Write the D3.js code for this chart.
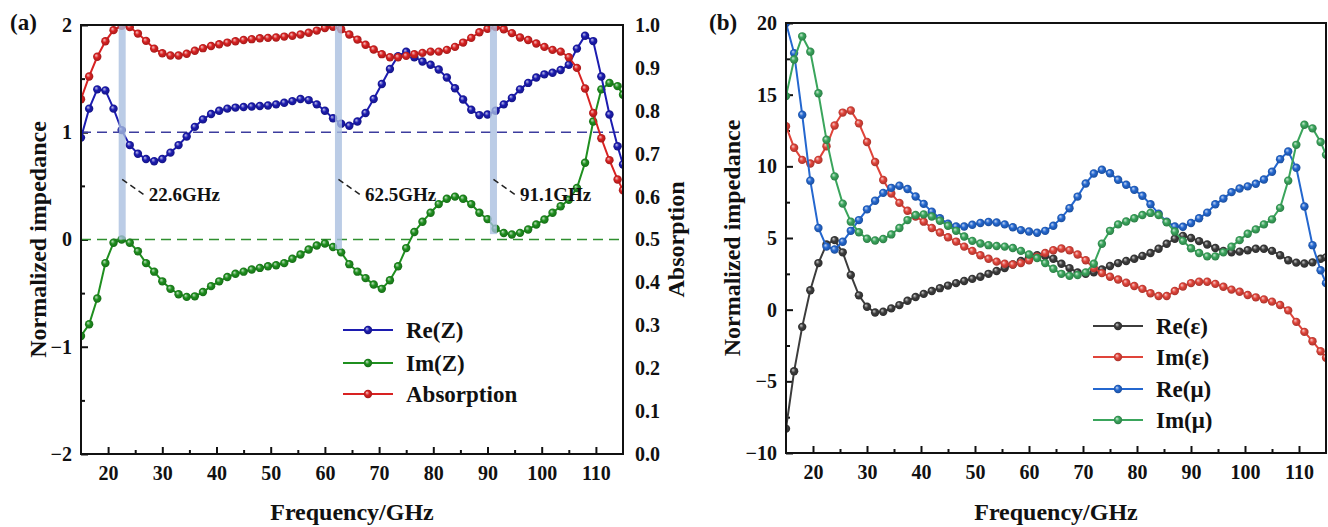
<!DOCTYPE html>
<html>
<head>
<meta charset="utf-8">
<script src="https://cdn.jsdelivr.net/npm/d3@7"></script>
<style>
  body { margin: 0; background: #fff; }
  svg { display: block; }
  text { font-family: "Liberation Serif", "Times New Roman", serif; font-weight: bold; fill: #111; }
</style>
</head>
<body>
<svg id="chart" width="1328" height="527"></svg>
<script>
// ---------------- data ----------------
const freq = [15, 16.5, 18, 19.5, 21, 22.5, 24, 25.5, 27, 28.5, 30, 31.5, 33, 34.5, 36, 37.5, 39, 40.5,
  42, 43.5, 45, 46.5, 48, 49.5, 51, 52.5, 54, 55.5, 57, 58.5, 60, 61.5, 63, 64.5, 66, 67.5, 69, 70.5,
  72, 73.5, 75, 76.5, 78, 79.5, 81, 82.5, 84, 85.5, 87, 88.5, 90, 91.5, 93, 94.5, 96, 97.5, 99, 100.5,
  102, 103.5, 105, 106.5, 108, 109.5, 111, 112.5, 114, 115];

// (a) normalized impedance and absorption
const reZ = [0.95, 1.22, 1.40, 1.39, 1.22, 1.02, 0.88, 0.80, 0.75, 0.73, 0.75, 0.81, 0.88, 0.96, 1.05, 1.12, 1.17, 1.20,
  1.22, 1.23, 1.235, 1.24, 1.245, 1.25, 1.26, 1.275, 1.29, 1.31, 1.30, 1.26, 1.20, 1.13, 1.08, 1.06, 1.10, 1.18, 1.31, 1.45,
  1.59, 1.71, 1.75, 1.70, 1.66, 1.63, 1.585, 1.51, 1.41, 1.305, 1.21, 1.16, 1.165, 1.20, 1.26, 1.32, 1.40, 1.46, 1.51, 1.54,
  1.555, 1.58, 1.63, 1.78, 1.90, 1.85, 1.52, 1.165, 0.87, 0.70];
const imZ = [-0.90, -0.79, -0.55, -0.22, -0.03, 0.0, -0.03, -0.11, -0.22, -0.30, -0.39, -0.46, -0.51, -0.535, -0.53, -0.49, -0.435, -0.39,
  -0.35, -0.32, -0.30, -0.28, -0.265, -0.25, -0.24, -0.22, -0.18, -0.14, -0.093, -0.056, -0.037, -0.07, -0.12, -0.23, -0.30, -0.36, -0.42, -0.46,
  -0.38, -0.25, -0.08, 0.07, 0.165, 0.25, 0.33, 0.38, 0.40, 0.38, 0.33, 0.25, 0.19, 0.10, 0.06, 0.047, 0.062, 0.093, 0.14, 0.186,
  0.25, 0.31, 0.37, 0.48, 0.715, 1.10, 1.40, 1.46, 1.43, 1.35];
const absorption = [0.827, 0.88, 0.926, 0.962, 0.988, 0.998, 0.995, 0.98, 0.963, 0.945, 0.934, 0.929, 0.929, 0.933, 0.94, 0.946, 0.951, 0.955,
  0.959, 0.962, 0.965, 0.967, 0.969, 0.97, 0.971, 0.973, 0.975, 0.978, 0.982, 0.987, 0.993, 0.996, 0.99, 0.978, 0.966, 0.954, 0.943, 0.932,
  0.925, 0.925, 0.928, 0.932, 0.935, 0.938, 0.938, 0.942, 0.949, 0.959, 0.97, 0.983, 0.991, 0.995, 0.99, 0.981, 0.971, 0.965, 0.957, 0.949,
  0.942, 0.938, 0.925, 0.90, 0.852, 0.795, 0.736, 0.685, 0.64, 0.615];

// (b) permittivity and permeability
const reEps = [-8.3, -4.3, -1.2, 1.35, 3.25, 4.55, 4.85, 4.0, 2.42, 1.0, 0.2, -0.2, -0.15, 0.09, 0.32, 0.62, 0.88, 1.1,
  1.3, 1.5, 1.68, 1.85, 2.0, 2.15, 2.3, 2.5, 2.7, 2.9, 3.15, 3.4, 3.65, 3.8, 3.75, 3.55, 3.2, 2.9, 2.6, 2.5,
  2.6, 2.8, 3.05, 3.25, 3.4, 3.55, 3.75, 3.95, 4.25, 4.6, 4.95, 5.15, 5.0, 4.78, 4.55, 4.3, 4.1, 4.0, 4.05, 4.15,
  4.25, 4.25, 4.1, 3.8, 3.45, 3.28, 3.22, 3.3, 3.55, 3.65];
const imEps = [12.8, 11.3, 10.45, 10.2, 10.45, 11.4, 12.85, 13.75, 13.9, 13.0, 11.7, 10.3, 9.05, 8.1, 7.45, 6.9, 6.5, 6.14,
  5.7, 5.38, 5.05, 4.75, 4.4, 4.1, 3.8, 3.55, 3.35, 3.2, 3.15, 3.25, 3.45, 3.7, 3.95, 4.15, 4.27, 4.15, 3.85, 3.45,
  2.9, 2.55, 2.3, 2.1, 1.88, 1.65, 1.45, 1.15, 0.95, 0.95, 1.3, 1.62, 1.85, 1.95, 1.95, 1.8, 1.6, 1.4, 1.25, 1.02,
  0.86, 0.72, 0.56, 0.33, -0.05, -0.85, -1.55, -2.2, -2.9, -3.35];
const reMu = [20.0, 17.9, 13.6, 9.0, 5.7, 4.4, 4.2, 4.74, 5.5, 6.25, 7.0, 7.6, 8.15, 8.5, 8.65, 8.42, 7.9, 7.38,
  6.84, 6.38, 6.0, 5.8, 5.8, 5.92, 6.05, 6.12, 6.08, 5.95, 5.75, 5.55, 5.45, 5.37, 5.5, 5.85, 6.4, 7.08, 7.89, 8.8,
  9.5, 9.76, 9.52, 9.06, 8.71, 8.36, 7.95, 7.35, 6.7, 6.14, 5.8, 5.78, 6.05, 6.38, 6.77, 7.35, 7.75, 8.2, 8.45, 8.6,
  8.78, 9.08, 9.62, 10.5, 11.03, 9.9, 7.2, 4.5, 2.75, 1.85];
const imMu = [14.9, 17.45, 19.07, 18.0, 15.1, 11.85, 9.3, 7.4, 6.14, 5.4, 4.95, 4.83, 4.93, 5.25, 5.7, 6.25, 6.6, 6.65,
  6.5, 6.2, 5.85, 5.5, 5.1, 4.8, 4.62, 4.5, 4.44, 4.4, 4.3, 4.1, 3.85, 3.6, 3.25, 2.85, 2.5, 2.36, 2.42, 2.6,
  3.2, 4.6, 5.5, 5.95, 6.15, 6.38, 6.6, 6.75, 6.6, 6.1, 5.45, 4.8, 4.28, 3.95, 3.72, 3.72, 4.0, 4.4, 4.85, 5.3,
  5.6, 5.95, 6.3, 7.1, 9.0, 11.5, 12.9, 12.65, 11.7, 10.8];

// matching resonances
const resonanceFreq = [22.6, 62.5, 91.1];
const resonanceImZ = [0.0, -0.09, 0.05];
const resonanceLabels = ["22.6GHz", "62.5GHz", "91.1GHz"];

// ticks
const freqTicks = [20, 30, 40, 50, 60, 70, 80, 90, 100, 110];
const freqMinorTicks = [25, 35, 45, 55, 65, 75, 85, 95, 105];
const impTicksA = [-2, -1, 0, 1, 2];
const impMinorA = [-1.5, -0.5, 0.5, 1.5];
const absTicks = [0, 0.1, 0.2, 0.3, 0.4, 0.5, 0.6, 0.7, 0.8, 0.9, 1.0];
const impTicksB = [-10, -5, 0, 5, 10, 15, 20];
const impMinorB = [-7.5, -2.5, 2.5, 7.5, 12.5, 17.5];

// ---------------- drawing ----------------
const svg = d3.select("#chart");
const defs = svg.append("defs");

function sphereGradient(id, color) {
  const g = defs.append("radialGradient").attr("id", id)
    .attr("cx", "50%").attr("cy", "50%").attr("r", "55%").attr("fx", "35%").attr("fy", "32%");
  g.append("stop").attr("offset", "0%").attr("stop-color", d3.interpolateRgb(color, "#fff")(0.75));
  g.append("stop").attr("offset", "45%").attr("stop-color", color);
  g.append("stop").attr("offset", "100%").attr("stop-color", d3.color(color).darker(0.9));
  return `url(#${id})`;
}

function panel(cfg) {
  const g = svg.append("g");
  const x = d3.scaleLinear().domain([15, 115]).range([cfg.x0, cfg.x1]);
  const y = d3.scaleLinear().domain(cfg.yDomain).range([cfg.y1, cfg.y0]);

  defs.append("clipPath").attr("id", cfg.id + "clip").append("rect")
    .attr("x", cfg.x0).attr("y", cfg.y0 - 1).attr("width", cfg.x1 - cfg.x0).attr("height", cfg.y1 - cfg.y0 + 2);

  // bottom axis (inward ticks)
  g.append("g").attr("transform", `translate(0,${cfg.y1})`)
    .call(d3.axisBottom(x).tickValues(freqTicks).tickSizeInner(-7).tickSizeOuter(0).tickPadding(12));
  g.append("g").attr("transform", `translate(0,${cfg.y1})`)
    .call(d3.axisBottom(x).tickValues(freqMinorTicks).tickFormat("").tickSizeInner(-4).tickSizeOuter(0));
  // left axis
  g.append("g").attr("transform", `translate(${cfg.x0},0)`)
    .call(d3.axisLeft(y).tickValues(cfg.yTicks).tickSizeInner(-7).tickSizeOuter(0).tickPadding(9).tickFormat(d3.format("d")));
  g.append("g").attr("transform", `translate(${cfg.x0},0)`)
    .call(d3.axisLeft(y).tickValues(cfg.yMinor).tickFormat("").tickSizeInner(-4).tickSizeOuter(0));

  g.selectAll(".tick line").attr("stroke", "#111").attr("stroke-width", 2);
  g.selectAll(".domain").remove();
  g.selectAll(".tick text").style("font-size", "20px").attr("fill", "#111");

  g.append("text").attr("x", (cfg.x0 + cfg.x1) / 2).attr("y", 520).attr("text-anchor", "middle")
    .style("font-size", "24px").text("Frequency/GHz");
  g.append("text").attr("transform", `translate(${cfg.titleX},${(cfg.y0 + cfg.y1) / 2}) rotate(-90)`)
    .attr("text-anchor", "middle").style("font-size", "24px").text("Normalized impedance");
  g.append("text").attr("x", cfg.labelX).attr("y", 30).style("font-size", "23px").text(cfg.label);

  const plot = g.append("g").attr("clip-path", `url(#${cfg.id}clip)`);
  return { g, x, y, plot };
}

function drawSeries(layer, x, y, values, color, gradId) {
  const fill = sphereGradient(gradId, color);
  const pts = freq.map((f, i) => [f, values[i]]);
  layer.append("path").datum(pts)
    .attr("fill", "none").attr("stroke", color).attr("stroke-width", 2)
    .attr("d", d3.line().x(d => x(d[0])).y(d => y(d[1])));
  layer.append("g").selectAll("circle").data(pts).join("circle")
    .attr("cx", d => x(d[0])).attr("cy", d => y(d[1])).attr("r", 4.2)
    .attr("fill", fill);
  return fill;
}

function legend(g, items, x0, rowY, textSize) {
  items.forEach((it, i) => {
    const cy = rowY[i];
    g.append("line").attr("x1", x0).attr("x2", x0 + 50).attr("y1", cy).attr("y2", cy)
      .attr("stroke", it.color).attr("stroke-width", 2);
    g.append("circle").attr("cx", x0 + 25).attr("cy", cy).attr("r", 4.2).attr("fill", it.fill);
    g.append("text").attr("x", x0 + 63).attr("y", cy + 8).style("font-size", textSize).text(it.name);
  });
}

// ---------- panel (a) ----------
const A = panel({ id: "pa", x0: 81, x1: 623, y0: 25, y1: 454, yDomain: [-2, 2],
  yTicks: impTicksA, yMinor: impMinorA, titleX: 46, labelX: 10, label: "(a)" });
const yAbs = d3.scaleLinear().domain([0, 1]).range([454, 25]);

A.g.append("g").attr("transform", "translate(623,0)")
  .call(d3.axisRight(yAbs).tickValues(absTicks).tickSize(0).tickPadding(12).tickFormat(d3.format(".1f")))
  .call(s => s.select(".domain").remove())
  .call(s => s.selectAll("text").style("font-size", "20px").attr("fill", "#111"));
A.g.append("text").attr("transform", `translate(684,${(25 + 454) / 2}) rotate(-90)`)
  .attr("text-anchor", "middle").style("font-size", "24px").text("Absorption");

// reference lines
A.plot.append("line").attr("x1", 81).attr("x2", 623).attr("y1", A.y(1)).attr("y2", A.y(1))
  .attr("stroke", "#3d3d9e").attr("stroke-width", 1.6).attr("stroke-dasharray", "10,6");
A.plot.append("line").attr("x1", 81).attr("x2", 623).attr("y1", A.y(0)).attr("y2", A.y(0))
  .attr("stroke", "#2f8f2f").attr("stroke-width", 1.6).attr("stroke-dasharray", "10,6");

const cBlueA = "#1c1cb0", cGreenA = "#1f8f1f", cRedA = "#d82222";
const fGreenA = drawSeries(A.plot, A.x, A.y, imZ, cGreenA, "gA2");
const fBlueA = drawSeries(A.plot, A.x, A.y, reZ, cBlueA, "gA1");
const fRedA = drawSeries(A.plot, A.x, yAbs, absorption, cRedA, "gA3");

// resonance bands and labels
resonanceFreq.forEach((f, i) => {
  A.plot.append("rect").attr("x", A.x(f) - 3.5).attr("width", 7)
    .attr("y", 25).attr("height", A.y(resonanceImZ[i]) - 25)
    .attr("fill", "#a8bedf").attr("opacity", 0.78);
  A.g.append("line").attr("x1", A.x(f)).attr("y1", A.y(0.56))
    .attr("x2", A.x(f + 4.5)).attr("y2", A.y(0.40))
    .attr("stroke", "#222").attr("stroke-width", 1.5).attr("stroke-dasharray", "6,4");
  A.g.append("text").attr("x", A.x(f + 4.9)).attr("y", A.y(0.36))
    .style("font-size", "19px").text(resonanceLabels[i]);
});

// frame
A.g.append("rect").attr("x", 81).attr("y", 25).attr("width", 623 - 81).attr("height", 454 - 25)
  .attr("fill", "none").attr("stroke", "#111").attr("stroke-width", 2);

legend(A.g, [
  { name: "Re(Z)", color: cBlueA, fill: fBlueA },
  { name: "Im(Z)", color: cGreenA, fill: fGreenA },
  { name: "Absorption", color: cRedA, fill: fRedA }
], 343, [330, 363, 394], "23px");

// ---------- panel (b) ----------
const B = panel({ id: "pb", x0: 786, x1: 1326, y0: 23, y1: 453, yDomain: [-10, 20],
  yTicks: impTicksB, yMinor: impMinorB, titleX: 740, labelX: 709, label: "(b)" });

const cBlack = "#3c3c3c", cRedB = "#e0443a", cBlueB = "#2467cf", cGreenB = "#3aa55c";
const fBlack = drawSeries(B.plot, B.x, B.y, reEps, cBlack, "gB1");
const fRedB = drawSeries(B.plot, B.x, B.y, imEps, cRedB, "gB2");
const fBlueB = drawSeries(B.plot, B.x, B.y, reMu, cBlueB, "gB3");
const fGreenB = drawSeries(B.plot, B.x, B.y, imMu, cGreenB, "gB4");

B.g.append("rect").attr("x", 786).attr("y", 23).attr("width", 1326 - 786).attr("height", 453 - 23)
  .attr("fill", "none").attr("stroke", "#111").attr("stroke-width", 2);

legend(B.g, [
  { name: "Re(ε)", color: cBlack, fill: fBlack },
  { name: "Im(ε)", color: cRedB, fill: fRedB },
  { name: "Re(μ)", color: cBlueB, fill: fBlueB },
  { name: "Im(μ)", color: cGreenB, fill: fGreenB }
], 1093, [326, 357, 389, 420], "23px");
</script>
</body>
</html>
